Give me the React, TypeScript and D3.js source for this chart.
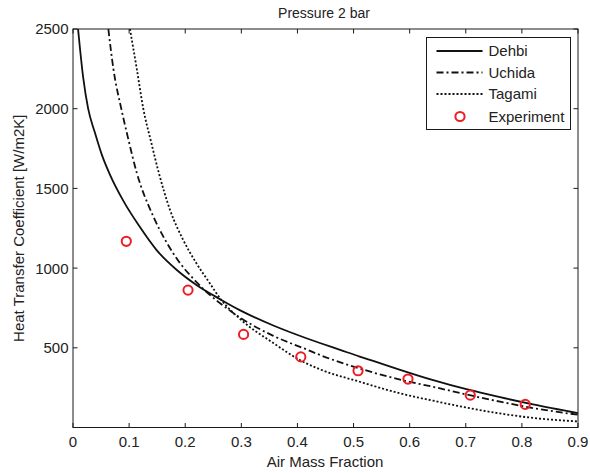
import React from "react";
import * as d3 from "d3";

const dehbiX = [0.009, 0.018, 0.027, 0.039, 0.051, 0.066, 0.09, 0.119, 0.149, 0.185, 0.22, 0.262, 0.298, 0.357, 0.416, 0.44, 0.476, 0.511, 0.535, 0.583, 0.642, 0.701, 0.761, 0.82, 0.9];
const dehbiY = [2500, 2200, 2000, 1850, 1715, 1585, 1420, 1259, 1113, 988, 894, 805, 735, 640, 560, 530, 487, 445, 418, 362, 297, 240, 190, 145, 90];

const uchidaX = [0.063, 0.072, 0.087, 0.0985, 0.1135, 0.143, 0.167, 0.191, 0.214, 0.238, 0.262, 0.2975, 0.357, 0.416, 0.44, 0.511, 0.583, 0.642, 0.701, 0.761, 0.82, 0.9];
const uchidaY = [2500, 2250, 1985, 1810, 1600, 1325, 1160, 1030, 935, 850, 780, 690, 575, 490, 455, 370, 300, 255, 207, 162, 122, 80];

const tagamiX = [0.1015, 0.1135, 0.1252, 0.14, 0.152, 0.173, 0.1965, 0.22, 0.244, 0.262, 0.298, 0.357, 0.406, 0.44, 0.511, 0.583, 0.642, 0.701, 0.761, 0.82, 0.9];
const tagamiY = [2500, 2253, 2002, 1780, 1610, 1364, 1176, 1030, 904, 810, 680, 530, 420, 365, 287, 214, 168, 125, 88, 60, 38];

const expX = [0.095, 0.205, 0.304, 0.406, 0.508, 0.597, 0.708, 0.806];
const expY = [1168, 862, 584, 443, 356, 304, 203, 145];

const xTicks = [0, 0.1, 0.2, 0.3, 0.4, 0.5, 0.6, 0.7, 0.8, 0.9];
const xTickLabels = ["0", "0.1", "0.2", "0.3", "0.4", "0.5", "0.6", "0.7", "0.8", "0.9"];
const yTicks = [500, 1000, 1500, 2000, 2500];
const yTickLabels = ["500", "1000", "1500", "2000", "2500"];

const seriesNames = ["Dehbi", "Uchida", "Tagami", "Experiment"];

const W = 590, H = 473;
const L = 73, R = 578, T = 29, B = 427.5;
const FONT = "'Liberation Sans', Arial, sans-serif";
const AX = "#1a1a1a";
const TXT = "#222";

export default function App() {
  const x = d3.scaleLinear().domain([0, 0.9]).range([L, R]);
  const y = d3.scaleLinear().domain([0, 2500]).range([B, T]);
  const line = d3.line<[number, number]>().x(d => x(d[0])).y(d => y(d[1])).curve(d3.curveMonotoneX);
  const zip = (a: number[], b: number[]) => a.map((v, i) => [v, b[i]] as [number, number]);

  const curves = [
    { name: seriesNames[0], d: line(zip(dehbiX, dehbiY)), dash: "none" },
    { name: seriesNames[1], d: line(zip(uchidaX, uchidaY)), dash: "7,3,2,3" },
    { name: seriesNames[2], d: line(zip(tagamiX, tagamiY)), dash: "2,2" },
  ];

  const legX = 426.5, legY = 37.5, legW = 144, legH = 92;
  const rows = [51, 72.5, 94, 116.5];

  return (
    <svg width={W} height={H} style={{ position: "absolute", left: 0, top: 0, background: "#fff" }} fontFamily={FONT}>
      <defs>
        <clipPath id="plot">
          <rect x={L} y={T} width={R - L} height={B - T} />
        </clipPath>
      </defs>
      <rect x={0} y={0} width={W} height={H} fill="#fff" />
      <g clipPath="url(#plot)">
        {curves.map(c => (
          <path key={c.name} d={c.d || ""} fill="none" stroke="#111" strokeWidth={1.8} strokeDasharray={c.dash} />
        ))}
      </g>
      {expX.map((v, i) => (
        <circle key={i} cx={x(v)} cy={y(expY[i])} r={4.6} fill="none" stroke="#ee1c24" strokeWidth={2} />
      ))}
      <rect x={L} y={T} width={R - L} height={B - T} fill="none" stroke={AX} strokeWidth={1} />
      {xTicks.map((t, i) => (
        <g key={"xt" + i}>
          <line x1={x(t)} x2={x(t)} y1={B} y2={B - 4.5} stroke={AX} />
          <line x1={x(t)} x2={x(t)} y1={T} y2={T + 4.5} stroke={AX} />
          <text x={x(t)} y={447} textAnchor="middle" fontSize={15} fill={TXT}>{xTickLabels[i]}</text>
        </g>
      ))}
      {yTicks.map((t, i) => (
        <g key={"yt" + i}>
          <line x1={L} x2={L + 4.5} y1={y(t)} y2={y(t)} stroke={AX} />
          <line x1={R} x2={R - 4.5} y1={y(t)} y2={y(t)} stroke={AX} />
          <text x={68.5} y={y(t)} dy="0.36em" textAnchor="end" fontSize={15} fill={TXT}>{yTickLabels[i]}</text>
        </g>
      ))}
      <text x={324} y={18} textAnchor="middle" fontSize={14} fill={TXT}>Pressure 2 bar</text>
      <text x={325} y={467} textAnchor="middle" fontSize={15} fill={TXT}>Air Mass Fraction</text>
      <text transform={`translate(23.5,${(T + B) / 2}) rotate(-90)`} textAnchor="middle" fontSize={15} fill={TXT}>Heat Transfer Coefficient [W/m2K]</text>
      <rect x={legX} y={legY} width={legW} height={legH} fill="#fff" stroke={AX} strokeWidth={1} />
      {curves.map((c, i) => (
        <g key={"lg" + i}>
          <line x1={436.5} x2={482.5} y1={rows[i]} y2={rows[i]} stroke="#111" strokeWidth={1.8} strokeDasharray={c.dash} />
          <text x={488.5} y={rows[i]} dy="0.36em" fontSize={15} fill={TXT}>{c.name}</text>
        </g>
      ))}
      <circle cx={460} cy={rows[3]} r={4.6} fill="none" stroke="#ee1c24" strokeWidth={2} />
      <text x={488.5} y={rows[3]} dy="0.36em" fontSize={15} fill={TXT}>{seriesNames[3]}</text>
    </svg>
  );
}
